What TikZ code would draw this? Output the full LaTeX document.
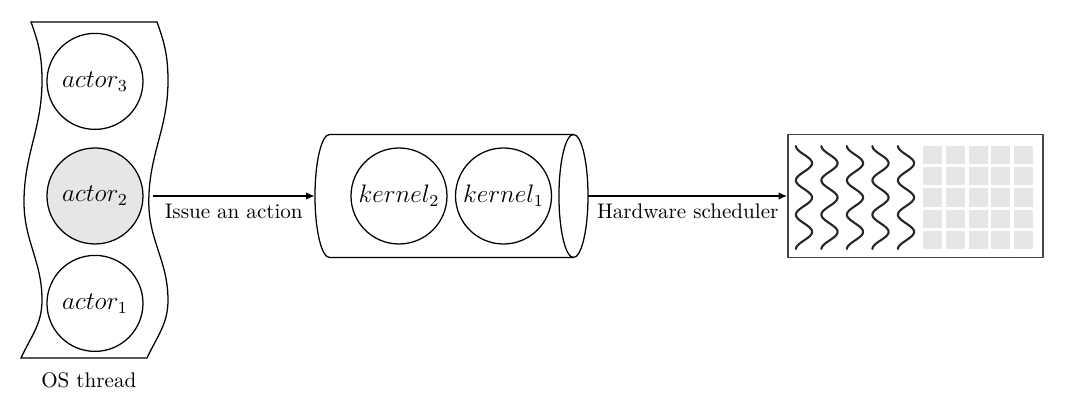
\documentclass[tikz,border=0pt]{standalone}
\definecolor{cellgray}{RGB}{230,230,232}
\definecolor{boxgray}{RGB}{70,70,70}
\usepackage{amsmath}
\usepackage{tikz}
\usetikzlibrary{arrows.meta}

\begin{document}
\begin{tikzpicture}[
    actor/.style={draw, circle, line width=0.6pt, minimum size=1.6cm, inner sep=0pt, font=\large},
    flow/.style={-{Latex[length=4pt, width=3.5pt]}, line width=0.6pt}]
  \useasboundingbox (0,0) rectangle (18,6.7167);

  % OS thread
  \draw[line width=0.6pt] (0.517,6.35) to[out=-70,in=90] (0.70,5.367) to[out=-90,in=90] (0.40,3.35)
    to[out=-90,in=90] (0.70,1.717) to[out=-90,in=65] (0.35,0.75) -- (2.45,0.75)
    to[out=65,in=-90] (2.80,1.717) to[out=90,in=-90] (2.48,3.35) to[out=90,in=-90] (2.80,5.367)
    to[out=90,in=-70] (2.617,6.35) -- cycle;
  \node (act3) [actor] at (1.583,5.36) {$actor_3$};
  \node (act2) [actor, fill=cellgray] at (1.583,3.45) {$actor_2$};
  \node (act1) [actor] at (1.583,1.66) {$actor_1$};
  \node (osl) at (1.48,0.38) {OS thread};
  \coordinate (thr) at (2.55,3.45);

  % Kernel queue
  \node (cyl) [minimum width=4.55cm, minimum height=2.05cm, inner sep=0pt] at (7.525,3.45) {};
  \draw[line width=0.6pt] (9.558,4.475) -- (5.492,4.475)
    arc[start angle=90, end angle=270, x radius=0.242, y radius=1.025] -- (9.558,2.425);
  \draw[line width=0.6pt] (9.558,3.45) ellipse[x radius=0.242, y radius=1.025];
  \node (kern2) [actor] at (6.65,3.45) {$kernel_2$};
  \node (kern1) [actor] at (8.392,3.45) {$kernel_1$};

  % GPU
  \node (gpu) [draw=boxgray, line width=0.9pt, minimum width=4.25cm, minimum height=2.05cm,
    inner sep=0pt] at (15.258,3.45) {};
  \foreach \i in {0,...,4}
    \draw[line width=1pt, black!85, line cap=round] plot[domain=0:1, samples=80, smooth, variable=\t]
      ({13.4+0.425*\i-0.135*cos(1080*\t)}, {4.283-1.717*\t});
  \foreach \i in {0,...,4}
    \foreach \j in {0,...,4}
      \fill[cellgray] (15.388+0.378*\i, 4.288-0.355*\j) rectangle ++(0.317,-0.308);

  % Connectors
  \draw[flow] (thr) -- (cyl.west) node[midway, below] {Issue an action};
  \draw[flow] (cyl.east) -- (gpu.west) node[midway, below] {Hardware scheduler};
\end{tikzpicture}
\end{document}
